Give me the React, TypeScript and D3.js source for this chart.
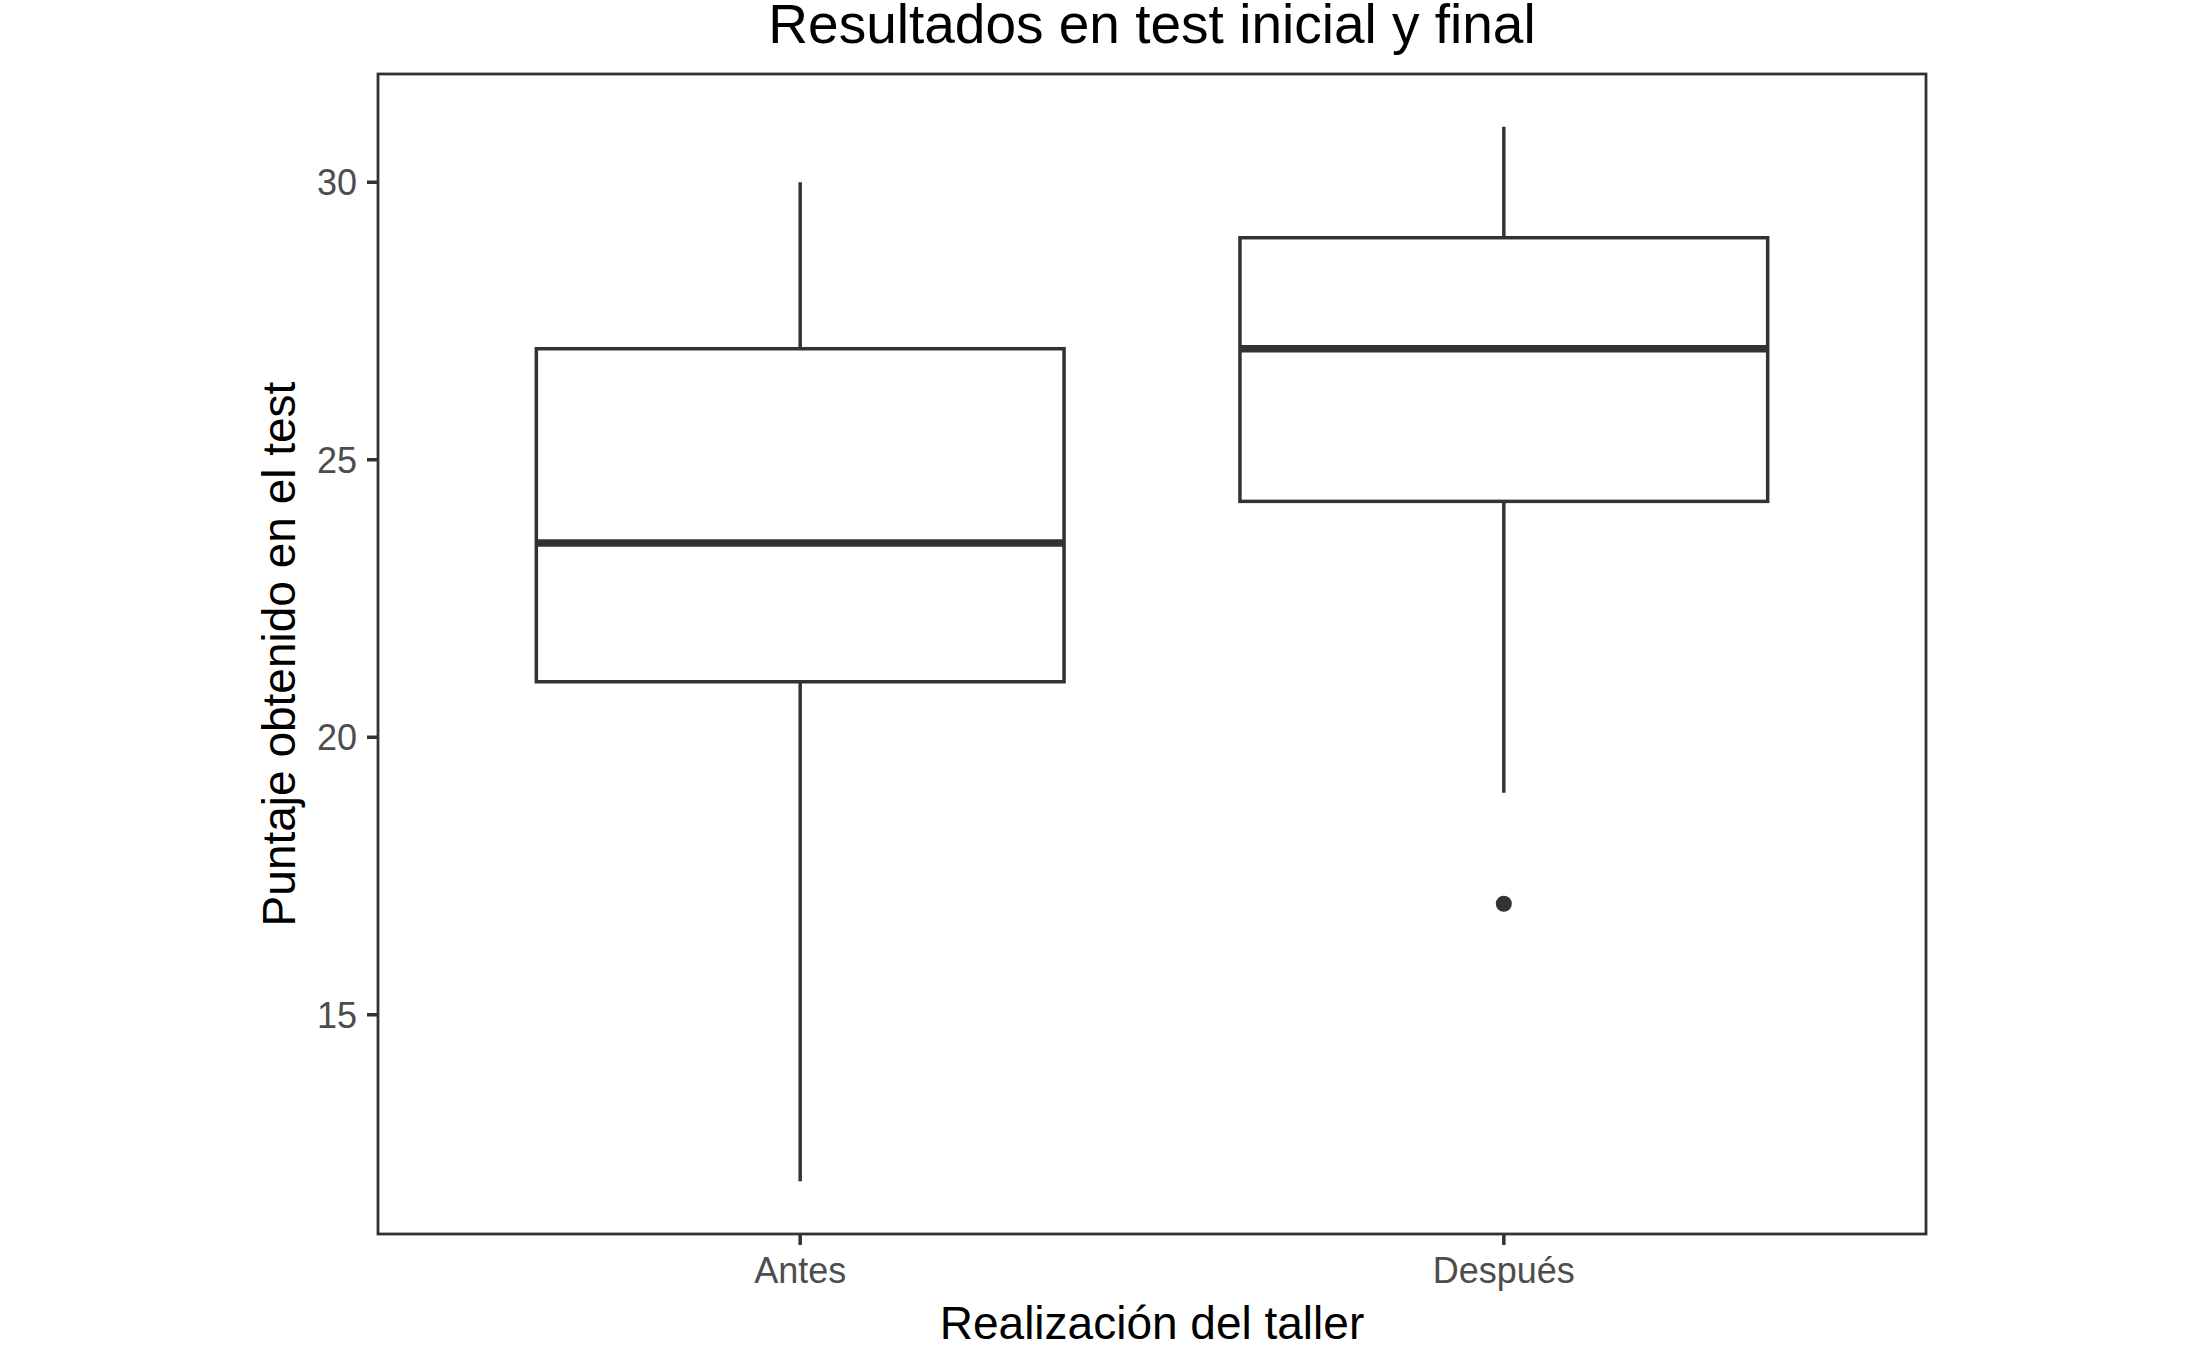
import React from "react";
import * as d3 from "d3";

const categories = ["Antes", "Después"];
const whiskerLow = [12, 19];
const q1 = [21, 24.25];
const medians = [23.5, 27];
const q3 = [27, 29];
const whiskerHigh = [30, 31];
const outliers = [[], [17]];
const yTicks = [15, 20, 25, 30];

const title = "Resultados en test inicial y final";
const xTitle = "Realización del taller";
const yTitle = "Puntaje obtenido en el test";

const W = 2187;
const H = 1350;
const M = { left: 378, right: 1926, top: 74, bottom: 1234 };
const LINE = "#333333";
const FONT = "'Liberation Sans', Arial, Helvetica, sans-serif";
const LW = 3.5;

export default function App() {
  const allVals = [...whiskerLow, ...whiskerHigh, ...outliers.flat()];
  const lo = d3.min(allVals) as number;
  const hi = d3.max(allVals) as number;
  const pad = (hi - lo) * 0.05;
  const y = d3.scaleLinear().domain([lo - pad, hi + pad]).range([M.bottom, M.top]);
  const x = d3
    .scaleLinear()
    .domain([0.4, categories.length + 0.6])
    .range([M.left, M.right]);
  const halfW = x(1.375) - x(1);

  return (
    <svg
      width={W}
      height={H}
      style={{ position: "absolute", left: 0, top: 0, background: "#fff" }}
      fontFamily={FONT}
    >
      <rect x={0} y={0} width={W} height={H} fill="#fff" />
      {categories.map((c, i) => {
        const cx = x(i + 1);
        return (
          <g key={c}>
            <line x1={cx} x2={cx} y1={y(q3[i])} y2={y(whiskerHigh[i])} stroke={LINE} strokeWidth={LW} />
            <line x1={cx} x2={cx} y1={y(q1[i])} y2={y(whiskerLow[i])} stroke={LINE} strokeWidth={LW} />
            <rect
              x={cx - halfW}
              y={y(q3[i])}
              width={halfW * 2}
              height={y(q1[i]) - y(q3[i])}
              fill="#fff"
              stroke={LINE}
              strokeWidth={LW}
            />
            <line x1={cx - halfW} x2={cx + halfW} y1={y(medians[i])} y2={y(medians[i])} stroke={LINE} strokeWidth={7.5} />
            {outliers[i].map((v, j) => (
              <circle key={j} cx={cx} cy={y(v)} r={8} fill={LINE} />
            ))}
          </g>
        );
      })}
      <rect
        x={M.left}
        y={M.top}
        width={M.right - M.left}
        height={M.bottom - M.top}
        fill="none"
        stroke={LINE}
        strokeWidth={2.8}
      />
      {yTicks.map((t) => (
        <g key={t}>
          <line x1={M.left - 11} x2={M.left} y1={y(t)} y2={y(t)} stroke={LINE} strokeWidth={LW} />
          <text x={M.left - 21} y={y(t) + 13} textAnchor="end" fontSize={36} fill="#4D4D4D">
            {t}
          </text>
        </g>
      ))}
      {categories.map((c, i) => (
        <g key={c}>
          <line x1={x(i + 1)} x2={x(i + 1)} y1={M.bottom} y2={M.bottom + 11} stroke={LINE} strokeWidth={LW} />
          <text x={x(i + 1)} y={M.bottom + 49} textAnchor="middle" fontSize={36} fill="#4D4D4D">
            {c}
          </text>
        </g>
      ))}
      <text x={(M.left + M.right) / 2} y={1339} textAnchor="middle" fontSize={46} fill="#000">
        {xTitle}
      </text>
      <text
        transform={`translate(295, ${(M.top + M.bottom) / 2}) rotate(-90)`}
        textAnchor="middle"
        fontSize={46}
        fill="#000"
      >
        {yTitle}
      </text>
      <text x={(M.left + M.right) / 2} y={43} textAnchor="middle" fontSize={55} fill="#000">
        {title}
      </text>
    </svg>
  );
}
